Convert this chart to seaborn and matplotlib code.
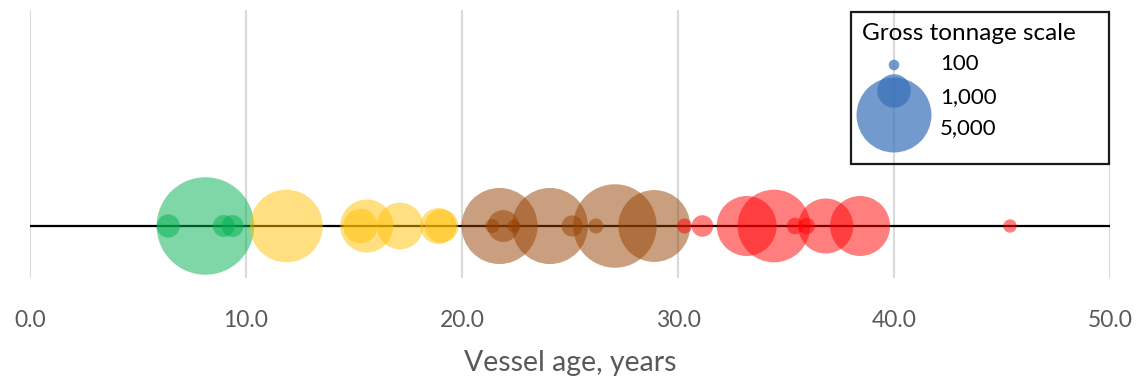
import matplotlib
matplotlib.use("Agg")
import matplotlib.pyplot as plt
from matplotlib.patches import Rectangle
import numpy as np
import pandas as pd
import seaborn as sns

# Vessel ages (years), gross tonnage and age band for each vessel
ages = [6.40, 8.12, 8.97, 9.38,
        11.87, 15.59, 15.30, 17.13, 18.90, 19.05,
        21.74, 21.40, 21.91, 22.40, 24.07, 25.10, 26.20, 27.08, 28.90,
        30.30, 31.13, 33.18, 34.44, 35.42, 35.96, 36.84, 38.43, 45.37]
tonnage = [480, 8450, 430, 430,
           4700, 2500, 1050, 1930, 1150, 1000,
           5150, 175, 900, 150, 5150, 400, 200, 6200, 4600,
           200, 415, 3200, 4700, 245, 245, 2700, 3200, 160]
band = (["<10"] * 4 + ["10-20"] * 6 + ["20-30"] * 9 + ["30+"] * 9)

band_colors = {"<10": "#00B050", "10-20": "#FFC000", "20-30": "#964100", "30+": "#FF0000"}

# Reference bubbles for the tonnage scale
scale_tonnage = [100, 1000, 5000]
scale_labels = ["100", "1,000", "5,000"]
scale_age = 40.0
scale_y = [1.61, 1.35, 1.11]

x_ticks = [0, 10, 20, 30, 40, 50]

df = pd.DataFrame({"age": ages, "tonnage": tonnage, "band": band,
                   "y": np.zeros(len(ages))})
scale_df = pd.DataFrame({"age": [scale_age] * 3, "tonnage": scale_tonnage,
                         "y": scale_y})

sns.set_style("white")
plt.rcParams["font.family"] = ["Lato", "DejaVu Sans"]

fig = plt.figure(figsize=(11.42, 3.86), dpi=100)
ax = fig.add_axes([30 / 1142, 108 / 386, 1080 / 1142, 268 / 386])

# marker area proportional to tonnage (s in pt^2)
k = 0.5825
t_all = tonnage + scale_tonnage
t_min, t_max = min(t_all), max(t_all)

ax.axhline(0, color="black", lw=1.6, zorder=1)

sns.scatterplot(data=df, x="age", y="y", hue="band", palette=band_colors,
                size="tonnage", sizes=(k * t_min, k * t_max), size_norm=(t_min, t_max),
                alpha=0.5, linewidth=0, legend=False, ax=ax, zorder=2)

sns.scatterplot(data=scale_df, x="age", y="y", color="#3770B8",
                size="tonnage", sizes=(k * t_min, k * t_max), size_norm=(t_min, t_max),
                alpha=0.7, linewidth=0, legend=False, ax=ax, zorder=3)

ax.set_xlim(0, 50)
ax.set_ylim(-0.52, 2.16)
ax.set_xticks(x_ticks)
ax.set_xticklabels([f"{v:.1f}" for v in x_ticks])
ax.set_yticks([])
ax.grid(axis="x", color="#D9D9D9", lw=1.5, zorder=0)
ax.set_axisbelow(True)
for s in ax.spines.values():
    s.set_visible(False)
ax.tick_params(axis="x", length=0, pad=23, labelsize=16.5, labelcolor="#595959")
ax.set_xlabel("Vessel age, years", fontsize=20.5, color="#595959", labelpad=14)
ax.set_ylabel("")

# tonnage scale box
box = Rectangle(((851 - 30) / 1080, (278 - 164) / 268),
                (1109 - 851) / 1080, (164 - 12) / 268,
                transform=ax.transAxes, fill=False, edgecolor="#1a1a1a",
                lw=1.6, zorder=4, clip_on=False)
ax.add_patch(box)
ax.text((862 - 30) / 1080, (278 - 33) / 268, "Gross tonnage scale",
        transform=ax.transAxes, ha="left", va="center", fontsize=17.5,
        color="black", zorder=5)
for yv, lab in zip([64, 97, 128], scale_labels):
    ax.text((940 - 30) / 1080, (278 - yv) / 268, lab, transform=ax.transAxes,
            ha="left", va="center", fontsize=16, color="black", zorder=5)

fig.savefig("out.png", dpi=100)
